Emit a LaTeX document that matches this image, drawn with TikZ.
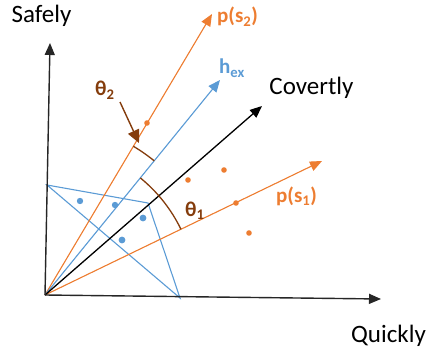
\documentclass[tikz,border=0pt]{standalone}
\usepackage{fontspec}
\setmainfont{Carlito}
\usetikzlibrary{arrows.meta}
\definecolor{oblue}{RGB}{91,155,213}
\definecolor{oorange}{RGB}{237,125,49}
\definecolor{obrown}{RGB}{132,60,12}
\begin{document}
\begin{tikzpicture}[x=1pt,y=-1pt,
  axisline/.style={draw=black!85, line width=1.4pt, -{Triangle[length=12pt,width=10pt]}},
  vecline/.style={line width=1.1pt, -{Triangle[length=12pt,width=10pt]}},
  starline/.style={draw=oblue, line width=1.1pt},
  arcline/.style={draw=obrown, line width=1.3pt},
  bigtext/.style={font=\fontsize{25}{29}\selectfont, inner sep=0pt, anchor=base},
  lbl/.style={font=\fontsize{21}{25}\selectfont\bfseries, inner sep=0pt, anchor=base west},
  bdot/.style={fill=oblue, draw=none},
  odot/.style={fill=oorange, draw=none}]
\useasboundingbox (0,0) rectangle (428,350);
\coordinate (O) at (45,295);
\coordinate (Ytip) at (50,43);
\coordinate (Xtip) at (381,299);
\coordinate (Ctip) at (262,106);
\coordinate (Htip) at (220,80);
\coordinate (P2tip) at (212,14);
\coordinate (P1tip) at (322,161);
\coordinate (A) at (47,185);
\coordinate (B) at (148,203);
\coordinate (C) at (180,298);
% star
\draw[starline] (A) -- (B) -- (C) -- cycle;
% vectors
\draw[vecline, draw=oorange, fill=oorange] (O) -- (P2tip);
\draw[vecline, draw=oorange, fill=oorange] (O) -- (P1tip);
\draw[vecline, draw=oblue, fill=oblue] (O) -- (Htip);
\draw[vecline, draw=black, fill=black, line width=1.3pt] (O) -- (Ctip);
% axes
\draw[axisline] (O) -- (Ytip);
\draw[axisline] (O) -- (Xtip);
% arcs
\draw[arcline] (O) ++(-59.3:173) arc[start angle=-59.3, end angle=-50.85, radius=173];
\draw[arcline] (O) ++(-50.85:151) arc[start angle=-50.85, end angle=-25.8, radius=151];
% dots
\fill[odot] (147,123) circle (2.8);
\fill[odot] (188,180) circle (2.8);
\fill[odot] (224,170) circle (2.8);
\fill[odot] (236,203) circle (2.8);
\fill[odot] (249,233) circle (2.8);
\fill[bdot] (80,201) circle (3.2);
\fill[bdot] (115,205) circle (3.2);
\fill[bdot] (143,218) circle (3.4);
\fill[bdot] (122,240) circle (3.4);
% labels
\node[bigtext] (safely) at (41.5,23) {Safely};
\node[bigtext] (quickly) at (388.5,342) {Quickly};
\node[bigtext] (covertly) at (311.5,95) {Covertly};
\node[lbl, text=oblue] (hex) at (219,74) {h\textsubscript{ex}};
\node[lbl, text=oorange] (ps2) at (217,23) {p(s\textsubscript{2})};
\node[lbl, text=oorange] (ps1) at (276,202) {p(s\textsubscript{1})};
\node[lbl, text=obrown] (th2) at (95,96) {θ\textsubscript{2}};
\node[lbl, text=obrown] (th1) at (185,216) {θ\textsubscript{1}};
\coordinate (th2tip) at (139,143);
\draw[draw=obrown, fill=obrown, line width=1.4pt, -{Triangle[length=13pt,width=12pt]}] (120,102) -- (th2tip);
\end{tikzpicture}
\end{document}
